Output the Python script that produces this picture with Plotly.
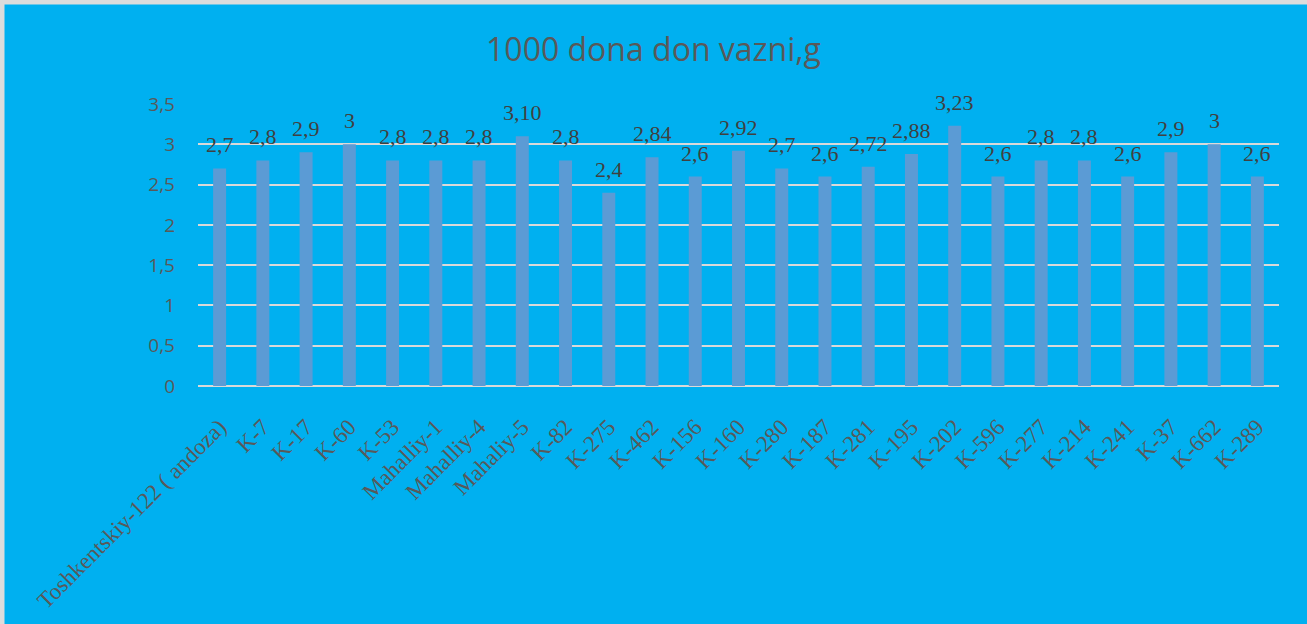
import plotly.graph_objects as go

categories = ["Toshkentskiy-122 ( andoza)", "K-7", "K-17", "K-60", "K-53", "Mahalliy-1",
              "Mahalliy-4", "Mahaliy-5", "K-82", "K-275", "K-462", "K-156", "K-160", "K-280",
              "K-187", "K-281", "K-195", "K-202", "K-596", "K-277", "K-214", "K-241", "K-37",
              "K-662", "K-289"]
values = [2.7, 2.8, 2.9, 3.0, 2.8, 2.8, 2.8, 3.10, 2.8, 2.4, 2.84, 2.6, 2.92, 2.7, 2.6,
          2.72, 2.88, 3.23, 2.6, 2.8, 2.8, 2.6, 2.9, 3.0, 2.6]
labels = ["2,7", "2,8", "2,9", "3", "2,8", "2,8", "2,8", "3,10", "2,8", "2,4", "2,84", "2,6",
          "2,92", "2,7", "2,6", "2,72", "2,88", "3,23", "2,6", "2,8", "2,8", "2,6", "2,9", "3", "2,6"]
ytick_vals = [0, 0.5, 1, 1.5, 2, 2.5, 3, 3.5]
ytick_text = ["0", "0,5", "1", "1,5", "2", "2,5", "3", "3,5"]
title_text = "1000 dona don vazni,g"

W, H = 1307, 624
ml, mr, mt, mb = 198, 28, 104, 238
pw = W - ml - mr
ph = H - mt - mb

fig = go.Figure()
fig.add_trace(go.Bar(
    x=categories, y=values,
    marker=dict(color="#5B9BD5", line=dict(width=0)),
    hoverinfo="x+y",
))

for c, v, t in zip(categories, values, labels):
    fig.add_annotation(x=c, y=v, text=t, showarrow=False, xanchor="center", yanchor="bottom",
                       yshift=9,
                       font=dict(family="Liberation Serif, Times New Roman, serif", size=22,
                                 color="#404040"))

fig.update_layout(
    width=W, height=H,
    margin=dict(l=ml, r=mr, t=mt, b=mb, autoexpand=False),
    paper_bgcolor="#00B0F0", plot_bgcolor="#00B0F0",
    bargap=0.7, showlegend=False,
    title=dict(text=title_text, x=0.5, xanchor="center", y=1 - 50 / H, yanchor="middle",
               font=dict(family="Open Sans, Liberation Sans, sans-serif", size=32, color="#595959")),
    xaxis=dict(tickangle=-45, showgrid=False, showline=False, ticks="", automargin=False,
               ticklabelstandoff=22,
               tickfont=dict(family="Liberation Serif, Times New Roman, serif", size=23, color="#595959")),
    yaxis=dict(range=[0, 3.5], tickvals=ytick_vals, ticktext=ytick_text, automargin=False,
               showgrid=True, gridcolor="#D9D9D9", gridwidth=2, zeroline=True,
               zerolinecolor="#D9D9D9", zerolinewidth=2, showline=False, ticks="",
               ticklabelstandoff=22,
               tickfont=dict(family="Open Sans, Liberation Sans, sans-serif", size=19, color="#595959")),
    font=dict(color="#595959"),
)

# light frame along the outer edge of the chart
fig.add_shape(type="rect", xref="paper", yref="paper",
              x0=(0 - ml) / pw, x1=(W + 20 - ml) / pw,
              y0=-(mb + 20) / ph, y1=1 + mt / ph,
              line=dict(color="#DCDCDC", width=9), fillcolor="rgba(0,0,0,0)", layer="above")

fig.write_html("out.html", config={"displayModeBar": False},
               post_script="document.body.style.margin='0';")
